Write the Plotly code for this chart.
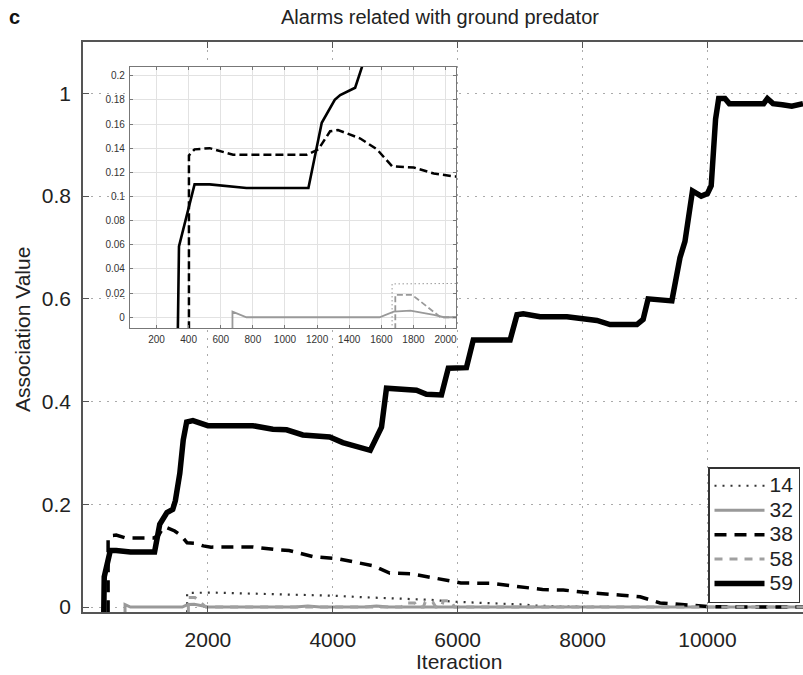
import plotly.graph_objects as go

# ---- data ----
series_names = ["14", "32", "38", "58", "59"]

x14 = [1667, 1667, 2100, 2800, 3500, 4000, 4500, 5000, 5560, 6000, 6500, 7000, 7240, 7600, 8500, 11530]
y14 = [-0.01, 0.0276, 0.028, 0.026, 0.023, 0.022, 0.019, 0.017, 0.014, 0.010, 0.008, 0.005, 0.003, 0.001, 0.0, 0.0]

x32 = [673, 673, 760, 1589, 1677, 1781, 1927, 1990, 3400, 3600, 3800, 4500, 4700, 4900, 11530]
y32 = [-0.01, 0.0047, 0.0, 0.0, 0.0047, 0.0055, 0.002, 0.0, 0.0, 0.002, 0.0, 0.0, 0.002, 0.0, 0.0]

x38 = [402, 402, 437, 531, 677, 1135, 1208, 1281, 1330, 1469, 1573, 1667, 1802, 1927, 2052,
       2720, 3150, 3300, 3690, 4080, 4660, 4910, 5240, 5810, 6050, 6550, 7360, 7690, 8020,
       8180, 8630, 8920, 9240, 9650, 10000, 10500, 11530]
y38 = [-0.01, 0.134, 0.139, 0.140, 0.1345, 0.1345, 0.139, 0.154, 0.155, 0.148, 0.139, 0.125, 0.124, 0.119, 0.1166,
       0.117, 0.111, 0.110, 0.098, 0.094, 0.080, 0.066, 0.065, 0.053, 0.047, 0.046, 0.034, 0.033, 0.028,
       0.027, 0.023, 0.020, 0.008, 0.004, 0.001, 0.0, 0.0]

x58 = [1687, 1687, 1792, 1969, 5100, 5150, 5310, 5350, 5450, 5480, 5600, 5650, 5740, 5770, 5890, 5950, 11530]
y58 = [-0.01, 0.0185, 0.0185, 0.0, 0.0, 0.008, 0.008, 0.0, 0.0, 0.010, 0.010, 0.0, 0.0, 0.012, 0.012, 0.0, 0.0]

x59 = [333, 340, 437, 531, 760, 1146, 1229, 1310, 1344, 1437, 1479, 1550, 1605, 1660, 1760, 2000,
       2720, 3040, 3260, 3520, 3950, 4160, 4600, 4780, 4860, 5340, 5500, 5740, 5850, 6140, 6250,
       6840, 6950, 7050, 7320, 7750, 8230, 8440, 8870, 8970, 9050, 9430, 9480, 9560, 9640, 9720,
       9760, 9900, 10000, 10060, 10130, 10180, 10280, 10350, 10900, 10960, 11050, 11200, 11350, 11530]
y59 = [-0.01, 0.0586, 0.110, 0.110, 0.107, 0.107, 0.161, 0.180, 0.184, 0.190, 0.207, 0.260, 0.325, 0.360, 0.363, 0.353,
       0.353, 0.346, 0.345, 0.335, 0.331, 0.320, 0.305, 0.350, 0.426, 0.422, 0.414, 0.413, 0.465, 0.466, 0.520,
       0.520, 0.569, 0.571, 0.565, 0.565, 0.558, 0.550, 0.550, 0.560, 0.600, 0.596, 0.631, 0.680, 0.712, 0.790,
       0.810, 0.800, 0.805, 0.820, 0.950, 0.990, 0.990, 0.980, 0.980, 0.990, 0.980, 0.978, 0.975, 0.980]

main_xticks = [2000, 4000, 6000, 8000, 10000]
main_xticklabels = ["2000", "4000", "6000", "8000", "10000"]
main_yticks = [0, 0.2, 0.4, 0.6, 0.8, 1]
inset_xticks = [200, 400, 600, 800, 1000, 1200, 1400, 1600, 1800, 2000]
inset_yticks = [0, 0.02, 0.04, 0.06, 0.08, 0.1, 0.12, 0.14, 0.16, 0.18, 0.2]

# ---- styles ----
data = {"14": (x14, y14), "32": (x32, y32), "38": (x38, y38), "58": (x58, y58), "59": (x59, y59)}
main_style = {
    "14": dict(color="#333333", width=2.2, dash="2px,6px"),
    "32": dict(color="#999999", width=3, dash="solid"),
    "38": dict(color="#000000", width=3.5, dash="12px,8px"),
    "58": dict(color="#a0a0a0", width=3, dash="8px,7px"),
    "59": dict(color="#000000", width=5.5, dash="solid"),
}
inset_style = {
    "14": dict(color="#666666", width=1, dash="1px,3px"),
    "32": dict(color="#999999", width=1.8, dash="solid"),
    "38": dict(color="#000000", width=2.5, dash="8px,4px"),
    "58": dict(color="#999999", width=1.8, dash="6px,3px"),
    "59": dict(color="#000000", width=2.6, dash="solid"),
}

FONT = "Liberation Sans, Arial, sans-serif"
fig = go.Figure()

for n in series_names:
    xs, ys = data[n]
    fig.add_trace(go.Scatter(x=xs, y=ys, mode="lines",
                             name='<span style="font-size:21px">' + n + '</span>',
                             line=main_style[n], xaxis="x", yaxis="y", showlegend=True))
for n in series_names:
    xs, ys = data[n]
    fig.add_trace(go.Scatter(x=xs, y=ys, mode="lines", name=n, line=inset_style[n],
                             xaxis="x2", yaxis="y2", showlegend=False))

W, H = 803, 675
L, R, T, B = 83, 0, 42, 63
pw, ph = W - L - R, H - T - B

def px2x(px):
    return (px - L) / pw

def py2y(py):
    return (H - B - py) / ph

fig.update_layout(
    width=W, height=H,
    margin=dict(l=L, r=R, t=T, b=B, pad=0),
    paper_bgcolor="white", plot_bgcolor="white",
    font=dict(family=FONT, color="#222222"),
    xaxis=dict(domain=[0, 1], range=[0, 11530], tickvals=main_xticks, ticktext=main_xticklabels,
               ticks="inside", ticklen=6, tickcolor="#555", tickwidth=1,
               showline=True, linecolor="#555", linewidth=1.5, mirror="ticks",
               showgrid=True, gridcolor="#aaaaaa", gridwidth=1, griddash="2px,6px",
               zeroline=False, tickfont=dict(size=21, color="#222"), ticklabelstandoff=8),
    yaxis=dict(domain=[0, 1], range=[-0.0097, 1.1], tickvals=main_yticks,
               ticks="inside", ticklen=6, tickcolor="#555", tickwidth=1,
               showline=True, linecolor="#555", linewidth=1.5, mirror=False,
               showgrid=True, gridcolor="#aaaaaa", gridwidth=1, griddash="2px,6px",
               zeroline=False, tickfont=dict(size=21, color="#222"), ticklabelstandoff=6),
    xaxis2=dict(domain=[px2x(130), px2x(456)], range=[35, 2065], tickvals=inset_xticks,
                anchor="y2", ticks="inside", ticklen=3, tickcolor="#777",
                showline=True, linecolor="#777", linewidth=1.2, mirror="ticks",
                showgrid=True, gridcolor="#e2e2e2", gridwidth=1, zeroline=False,
                tickfont=dict(size=10, color="#333"), ticklabelstandoff=2),
    yaxis2=dict(domain=[py2y(328), py2y(67)], range=[-0.0089, 0.2072], tickvals=inset_yticks,
                anchor="x2", ticks="inside", ticklen=3, tickcolor="#777",
                showline=True, linecolor="#777", linewidth=1.2, mirror="ticks",
                showgrid=True, gridcolor="#e2e2e2", gridwidth=1, zeroline=False,
                tickfont=dict(size=10, color="#333"), ticklabelstandoff=2),
    legend=dict(x=px2x(708), y=py2y(467), xanchor="left", yanchor="top",
                bgcolor="white", bordercolor="#333", borderwidth=1.5, itemwidth=50,
                font=dict(size=16.5, color="#222", family=FONT), tracegroupgap=0),
    showlegend=True,
)

fig.add_annotation(text="Alarms related with ground predator", xref="paper", yref="paper",
                   x=px2x(440), y=py2y(17), xanchor="center", yanchor="middle",
                   showarrow=False, font=dict(size=20, color="#222"))
fig.add_annotation(text="<b>c</b>", xref="paper", yref="paper",
                   x=px2x(14), y=py2y(17), xanchor="center", yanchor="middle",
                   showarrow=False, font=dict(size=20, color="#111"))
fig.add_annotation(text="Iteraction", xref="paper", yref="paper",
                   x=px2x(459), y=py2y(661), xanchor="center", yanchor="middle",
                   showarrow=False, font=dict(size=21, color="#222"))
fig.add_annotation(text="Association Value", xref="paper", yref="paper",
                   x=px2x(22), y=py2y(330), xanchor="center", yanchor="middle",
                   textangle=-90, showarrow=False, font=dict(size=21, color="#222"))

fig.write_html("out.html")
